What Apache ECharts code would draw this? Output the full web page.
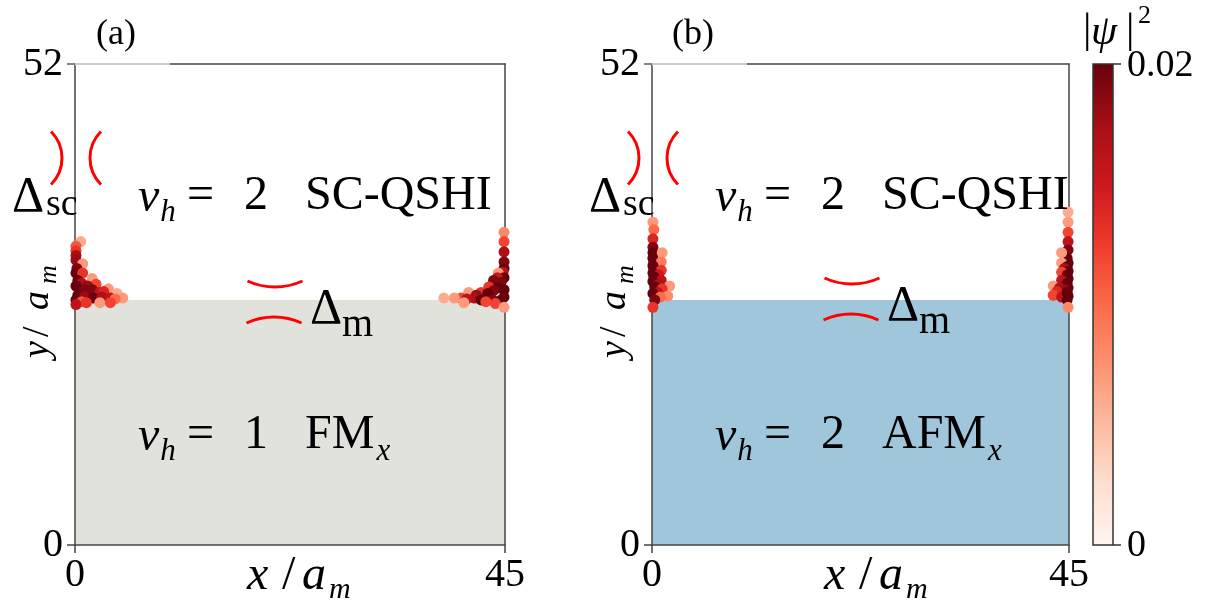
<!DOCTYPE html>
<html>
<head>
<meta charset="utf-8">
<script src="https://cdn.jsdelivr.net/npm/echarts@6/dist/echarts.min.js"></script>
<style>
  html, body { margin: 0; padding: 0; background: #fff; }
  #chart { width: 1206px; height: 611px; }
</style>
</head>
<body>
<div id="chart"></div>
<script>
// ---- data -------------------------------------------------------------
const xTicks = [0, 45];          // x / a_m
const yTicks = [0, 52];          // y / a_m
const interfaceY = 26.5;         // upper edge of the magnetic region
const psiMax = 0.02;             // |psi|^2 colour range

// edge-state weights [x, y, |psi|^2] - panel (a), FM_x
const fmLeft = [
  [0.6, 32.8, 0.006], [0.1, 32.3, 0.011], [0.1, 31.8, 0.013], [0.1, 31.3, 0.017],
  [0.1, 30.8, 0.018], [0.8, 30.4, 0.007], [0.2, 29.9, 0.019], [0.1, 29.4, 0.020],
  [0.8, 29.4, 0.013], [1.8, 28.8, 0.007], [0.3, 28.6, 0.020], [0.7, 28.3, 0.017],
  [2.2, 28.2, 0.012], [1.3, 28.0, 0.018], [0.1, 28.0, 0.020], [3.5, 27.7, 0.007],
  [1.0, 27.6, 0.019], [1.8, 27.6, 0.019], [2.6, 27.3, 0.016], [3.0, 27.4, 0.014],
  [4.4, 27.2, 0.006], [5.0, 26.7, 0.007], [0.3, 27.0, 0.020], [1.0, 26.9, 0.018],
  [1.9, 26.7, 0.020], [2.8, 26.8, 0.017], [3.7, 26.7, 0.016], [4.2, 26.6, 0.010],
  [0.1, 26.5, 0.020], [0.7, 26.3, 0.011], [2.6, 26.2, 0.007], [3.7, 26.2, 0.012],
  [0.1, 26.0, 0.016], [1.2, 26.2, 0.013]
];
const fmRight = [
  [44.9, 33.8, 0.008], [44.9, 32.8, 0.012], [44.9, 31.7, 0.017], [44.9, 30.6, 0.019],
  [44.9, 29.9, 0.020], [44.8, 29.5, 0.016], [44.3, 29.4, 0.007], [44.9, 28.9, 0.020],
  [44.2, 28.9, 0.015], [43.8, 28.6, 0.019], [44.6, 28.4, 0.019], [43.3, 27.9, 0.013],
  [44.3, 27.8, 0.020], [44.9, 27.6, 0.020], [43.8, 27.5, 0.019], [42.5, 27.3, 0.013],
  [41.2, 27.3, 0.007], [43.2, 27.2, 0.020], [42.0, 27.0, 0.018], [44.9, 26.8, 0.020],
  [40.4, 26.7, 0.012], [39.7, 26.7, 0.007], [38.6, 26.7, 0.006], [41.8, 26.7, 0.017],
  [41.0, 26.6, 0.016], [43.4, 26.6, 0.020], [42.5, 26.5, 0.020], [43.7, 26.5, 0.019],
  [44.6, 26.5, 0.020], [40.7, 26.2, 0.007], [43.0, 26.3, 0.012], [44.0, 26.1, 0.012],
  [44.9, 25.7, 0.007]
];
// panel (b), AFM_x
const afmLeft = [
  [0.1, 34.9, 0.007], [0.2, 34.1, 0.010], [0.1, 33.1, 0.014], [0.1, 32.2, 0.019],
  [0.1, 31.6, 0.020], [1.1, 31.6, 0.007], [0.1, 31.0, 0.020], [0.2, 30.6, 0.020],
  [1.0, 30.6, 0.009], [0.1, 30.2, 0.020], [0.2, 29.9, 0.020], [1.0, 29.7, 0.013],
  [0.1, 29.4, 0.020], [0.7, 29.2, 0.015], [0.2, 29.0, 0.020], [1.0, 28.6, 0.016],
  [0.1, 28.5, 0.020], [0.7, 28.2, 0.017], [1.9, 28.0, 0.007], [0.3, 27.9, 0.020],
  [1.1, 27.7, 0.013], [0.6, 27.3, 0.016], [0.1, 27.2, 0.020], [1.7, 26.9, 0.008],
  [0.9, 26.8, 0.010], [0.3, 26.5, 0.019], [0.1, 25.7, 0.013]
];
const afmRight = [
  [44.9, 36.0, 0.006], [44.9, 34.9, 0.007], [44.9, 33.8, 0.012], [44.9, 32.8, 0.016],
  [44.9, 31.9, 0.019], [44.8, 31.0, 0.020], [44.2, 31.6, 0.007], [44.9, 30.5, 0.020],
  [44.2, 30.5, 0.007], [44.8, 30.1, 0.020], [44.5, 29.9, 0.017], [44.9, 29.6, 0.020],
  [44.2, 29.5, 0.012], [44.8, 29.2, 0.020], [44.9, 28.8, 0.020], [44.2, 28.6, 0.016],
  [43.3, 28.0, 0.007], [44.8, 28.3, 0.020], [44.9, 27.8, 0.020], [44.0, 27.8, 0.017],
  [44.5, 27.6, 0.018], [43.7, 27.4, 0.014], [43.3, 27.0, 0.012], [44.9, 26.9, 0.020],
  [44.2, 26.8, 0.016], [44.8, 27.3, 0.020], [44.8, 26.5, 0.020], [44.9, 25.7, 0.008]
];

// ---- styling ------------------------------------------------------------
const SERIF = '"Liberation Serif", "DejaVu Serif", serif';
const AXIS_COLOR = '#444';
const REDS = ['#fff5f0', '#fee0d2', '#fcbba1', '#fc9272', '#fb6a4a',
              '#ef3b2c', '#cb181d', '#a50f15', '#67000d'];
const FILL_FM = '#e2e2dc';
const FILL_AFM = '#a0c6db';

const grids = [
  { left: 75, top: 64, width: 430, height: 481 },
  { left: 652, top: 64, width: 417, height: 481 }
];

const measureCtx = document.createElement('canvas').getContext('2d');
function textWidth(s, size, italic) {
  measureCtx.font = (italic ? 'italic ' : '') + size + 'px ' + SERIF;
  return measureCtx.measureText(s).width;
}
function txt(x, y, s, size, italic, align) {
  return {
    type: 'text', x: x, y: y, z: 40,
    style: {
      text: s, fontSize: size, fontFamily: SERIF,
      fontStyle: italic ? 'italic' : 'normal',
      fill: '#000', align: align || 'left', verticalAlign: 'middle'
    }
  };
}
function arc(cx, cy, r, a0, a1) {
  return {
    type: 'arc', z: 40,
    shape: { cx: cx, cy: cy, r: r, startAngle: a0, endAngle: a1, clockwise: true },
    style: { stroke: '#ff0000', lineWidth: 3, fill: 'none' }
  };
}
function line(x1, y1, x2, y2, color, w) {
  return { type: 'line', z: 35, shape: { x1: x1, y1: y1, x2: x2, y2: y2 },
           style: { stroke: color, lineWidth: w } };
}

// annotations of one panel, shifted horizontally by dx
function panelGraphics(dx, tag, lowerNu, lowerPhase, dmShift) {
  const g = [];
  const MAIN = 48, SUB = 31;
  g.push(txt(116 + dx, 35, tag, 36, false, 'center'));

  // phase labels
  [[196, '2', 'SC-QSHI', null], [435, lowerNu, lowerPhase, 'x']].forEach(function (row) {
    const y = row[0];
    const nuW = textWidth('ν', MAIN, true);
    g.push(txt(138 + dx, y + 2, 'ν', MAIN, true));
    g.push(txt(139 + dx + nuW, y + 17, 'h', SUB, true));
    g.push(txt(187 + dx, y, '=', MAIN, false));
    g.push(txt(244 + dx, y, row[1], MAIN, false));
    g.push(txt(305 + dx, y, row[2], MAIN, false));
    if (row[3]) {
      const pw = textWidth(row[2], MAIN, false);
      g.push(txt(307 + dx + pw, y + 17, row[3], SUB, true));
    }
  });

  // superconducting gap marker
  g.push(txt(12 + dx, 198, 'Δ', 50, false));
  g.push(txt(46 + dx, 205, 'sc', 38, false));
  g.push(arc(24.6 + dx, 158, 37.4, -Math.PI / 4, Math.PI / 4));
  g.push(arc(127.4 + dx, 158, 37.4, 3 * Math.PI / 4, 5 * Math.PI / 4));

  // magnetic gap marker
  g.push(txt(310 + dx, 310 + dmShift, 'Δ', 50, false));
  g.push(txt(342 + dx, 325 + dmShift, 'm', 40, false));
  g.push(arc(275 + dx, 221 + dmShift, 66, Math.PI / 2 - 0.43, Math.PI / 2 + 0.43));
  g.push(arc(274 + dx, 383 + dmShift, 66, -Math.PI / 2 - 0.43, -Math.PI / 2 + 0.43));

  // x-axis title  x / a_m
  g.push(txt(247 + dx, 576, 'x', 48, true));
  g.push(txt(282 + dx, 576, '/', 48, false));
  g.push(txt(302 + dx, 576, 'a', 48, true));
  g.push(txt(329 + dx, 590, 'm', 30, true));

  // y-axis title  y / a_m (reads bottom to top)
  g.push({
    type: 'group', x: 50 + dx, y: 358, rotation: Math.PI / 2, z: 40,
    children: [
      txt(0, -12, 'y', 38, true),
      txt(21, -12, '/', 38, false),
      txt(48, -12, 'a', 38, true),
      txt(74, -1, 'm', 26, true)
    ]
  });

  // lighter start of the top frame
  g.push(line(75 + dx, 64, 170 + dx, 64, '#ffffff', 2.5));
  g.push(line(67 + dx, 64, 170 + dx, 64, '#9a9a9a', 1));
  return g;
}

// colour bar
const barTop = 64, barBottom = 545, barLeft = 1093, barW = 20;
const colorBar = [
  {
    type: 'rect', z: 30,
    shape: { x: barLeft, y: barTop, width: barW, height: barBottom - barTop },
    style: {
      fill: {
        type: 'linear', x: 0, y: 1, x2: 0, y2: 0,
        colorStops: REDS.map(function (c, i) { return { offset: i / (REDS.length - 1), color: c }; })
      },
      stroke: '#333', lineWidth: 1.5
    }
  },
  line(barLeft + barW, barTop, barLeft + barW + 8, barTop, '#333', 1.5),
  line(barLeft + barW, barBottom, barLeft + barW + 8, barBottom, '#333', 1.5),
  txt(1127, barTop + 2, String(psiMax), 38, false),
  txt(1127, barBottom + 1, '0', 38, false),
  txt(1083, 31, '|', 42, false),
  txt(1091, 33, 'ψ', 42, true),
  txt(1126, 31, '|', 42, false),
  txt(1138, 16, '2', 26, false)
];

// ---- axes -----------------------------------------------------------------
function mainX(i) {
  return {
    type: 'value', gridIndex: i, min: xTicks[0], max: xTicks[1], interval: xTicks[1] - xTicks[0],
    z: 5,
    axisLine: { show: true, onZero: false, lineStyle: { color: AXIS_COLOR, width: 1.5 } },
    axisTick: { show: true, length: 8, lineStyle: { color: AXIS_COLOR, width: 1.5 } },
    axisLabel: { show: true, margin: 10, fontSize: 40, fontFamily: SERIF, color: '#000' },
    splitLine: { show: false }
  };
}
function mainY(i) {
  return {
    type: 'value', gridIndex: i, min: yTicks[0], max: yTicks[1], interval: yTicks[1] - yTicks[0],
    z: 5,
    axisLine: { show: true, onZero: false, lineStyle: { color: AXIS_COLOR, width: 1.5 } },
    axisTick: { show: true, length: 8, lineStyle: { color: AXIS_COLOR, width: 1.5 } },
    axisLabel: { show: true, margin: 12, fontSize: 40, fontFamily: SERIF, color: '#000' },
    splitLine: { show: false }
  };
}
function frameAxis(i, isX) {
  return {
    type: 'value', gridIndex: i, position: isX ? 'top' : 'right', z: 5,
    min: isX ? xTicks[0] : yTicks[0], max: isX ? xTicks[1] : yTicks[1],
    axisLine: { show: true, onZero: false, lineStyle: { color: AXIS_COLOR, width: 1.5 } },
    axisTick: { show: false }, axisLabel: { show: false }, splitLine: { show: false }
  };
}

function fillSeries(i, color) {
  return {
    type: 'line', xAxisIndex: i, yAxisIndex: i, z: 1, silent: true,
    data: [[xTicks[0], interfaceY], [xTicks[1], interfaceY]],
    symbol: 'none', lineStyle: { width: 0 },
    areaStyle: { color: color, opacity: 1 }
  };
}
function dotSeries(i, data) {
  return {
    type: 'scatter', xAxisIndex: i, yAxisIndex: i, z: 10, clip: false,
    symbolSize: 11, data: data, itemStyle: { opacity: 1 }
  };
}

const chart = echarts.init(document.getElementById('chart'), null, { renderer: 'canvas' });
chart.setOption({
  backgroundColor: '#ffffff',
  animation: false,
  grid: grids,
  xAxis: [mainX(0), mainX(1), frameAxis(0, true), frameAxis(1, true)],
  yAxis: [mainY(0), mainY(1), frameAxis(0, false), frameAxis(1, false)],
  visualMap: {
    show: false, type: 'continuous', min: 0, max: psiMax, dimension: 2,
    seriesIndex: [2, 3], inRange: { color: REDS }
  },
  series: [
    fillSeries(0, FILL_FM),
    fillSeries(1, FILL_AFM),
    dotSeries(0, fmLeft.concat(fmRight)),
    dotSeries(1, afmLeft.concat(afmRight))
  ],
  graphic: { elements: []
    .concat(panelGraphics(0, '(a)', '1', 'FM', 0))
    .concat(panelGraphics(577, '(b)', '2', 'AFM', -3))
    .concat(colorBar) }
});
</script>
</body>
</html>
